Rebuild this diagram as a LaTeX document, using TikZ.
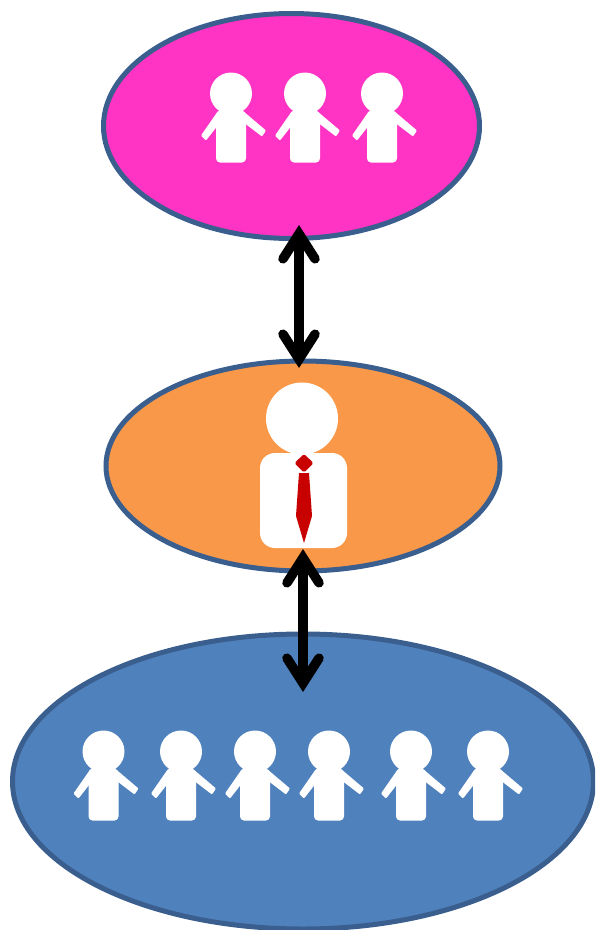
\documentclass[tikz,border=0pt]{standalone}
\usetikzlibrary{shapes.geometric,arrows.meta}
\definecolor{edgeblue}{HTML}{3A5F8F}
\definecolor{topfill}{HTML}{FF33C4}
\definecolor{midfill}{HTML}{F99848}
\definecolor{lowfill}{HTML}{4F81BD}
\definecolor{tiered}{HTML}{C80000}
\tikzset{
  x=1pt,y=-1pt,
  group/.style={ellipse,draw=edgeblue,line width=5pt,inner sep=0pt,outer sep=0pt},
  link/.style={line width=9.5pt,{Straight Barb[length=25pt,width=32pt,line cap=round]}-{Straight Barb[length=25pt,width=32pt,line cap=round]}},
  pics/person/.style={code={
    \fill[white] (0,0) circle[radius=21];
    \fill[white,rounded corners=4pt] (-15,17.5) rectangle (15,69);
    \fill[white,rounded corners=1pt] (-13,17.5) -- (-30,42) -- (-25,47) -- (-14,33) -- (14,30) -- (31,43) -- (35,37) -- (12,17.5) -- cycle;
  }}
}
\begin{document}
\begin{tikzpicture}
\useasboundingbox (0,0) rectangle (595,930);
\begin{scope}
\clip (0,0) rectangle (595,930);
\node[group,fill=topfill,minimum width=376pt,minimum height=225pt] (top) at (291.5,126) {};
\node[group,fill=midfill,minimum width=394pt,minimum height=210pt] (mid) at (303,466) {};
\node[group,fill=lowfill,minimum width=581pt,minimum height=295pt] (low) at (303,781.5) {};
\end{scope}
\pic at (231,93.5) {person};
\pic at (305,93.5) {person};
\pic at (382,93.5) {person};
\pic at (103.5,751.5) {person};
\pic at (181,751.5) {person};
\pic at (255,751.5) {person};
\pic at (329,751.5) {person};
\pic at (411,751.5) {person};
\pic at (488,751.5) {person};
\fill[white] (302,418.5) circle[radius=36];
\fill[white,rounded corners=15pt] (260,453) rectangle (347,548);
\fill[tiered,rounded corners=1.5pt] (304,454) -- (313.5,463) -- (304,472.5) -- (294.5,463) -- cycle;
\fill[tiered] (299,473) -- (309,473) -- (312,516) -- (304,543) -- (296,516) -- cycle;
\coordinate (a1) at (299,225);
\coordinate (a2) at (299,368);
\coordinate (b1) at (303,549);
\coordinate (b2) at (303,692);
\draw[link] (a1) -- (a2);
\draw[link] (b1) -- (b2);
\end{tikzpicture}
\end{document}
